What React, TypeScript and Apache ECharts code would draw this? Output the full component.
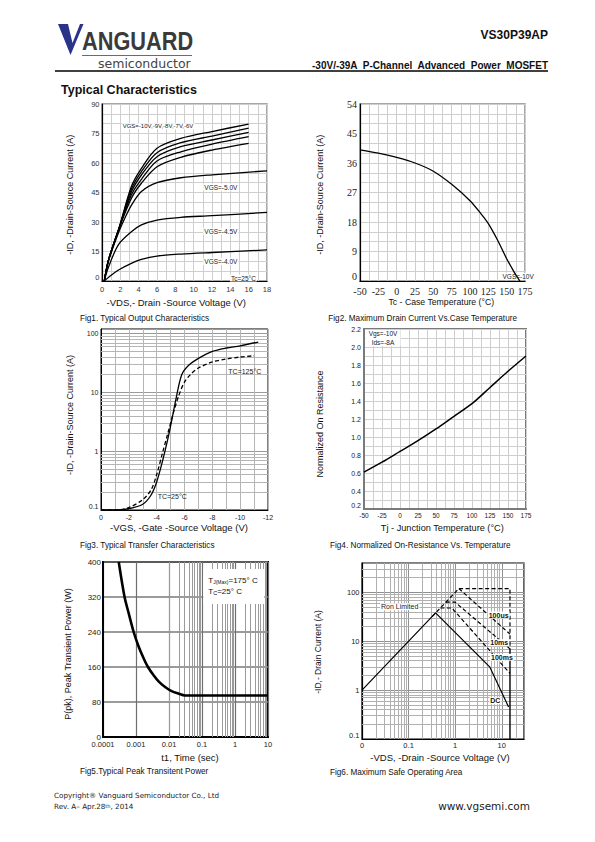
import React, { useEffect, useRef } from 'react';
import * as echarts from 'echarts';

const SANS = '"Liberation Sans", Arial, Helvetica, sans-serif';
const SERIF = '"Liberation Serif", "Times New Roman", serif';
const WIDE = '"DejaVu Sans", Verdana, sans-serif';

// ---------- Fig1: output characteristics ----------
const fig1VdsTop = [0.25, 0.7, 1.8, 3.2, 4.3, 6, 8.6, 12, 16];
const fig1IdVgs10 = [0, 10.5, 26, 48, 57.3, 67.5, 72.5, 76, 79.8];
const fig1IdVgs9 = [0, 10.5, 26, 46.6, 55.6, 65.2, 70.3, 73.7, 77.7];
const fig1IdVgs8 = [0, 10.5, 26, 45.2, 53.9, 63.2, 68.3, 71.7, 75.6];
const fig1IdVgs7 = [0, 10.5, 26, 43.7, 51.7, 61, 65.7, 69.6, 73.4];
const fig1IdVgs6 = [0, 10.5, 26, 42, 49.7, 58.1, 62.9, 66.6, 70];
const fig1VdsVgs5 = [0.25, 0.7, 1.8, 2.6, 3.2, 4.3, 6, 8.6, 12, 18];
const fig1IdVgs5 = [0, 10, 24.5, 33, 38.5, 45.5, 50, 52.5, 54, 56];
const fig1VdsLow = [0.25, 0.7, 1.8, 3.2, 4.3, 6, 8.6, 12, 18];
const fig1IdVgs45 = [0, 7, 18.5, 25, 28.5, 31, 32.4, 33.2, 34.9];
const fig1IdVgs4 = [0, 1.8, 5.6, 9, 11, 12.7, 13.7, 14.5, 15.8];
const fig1XLabels = [0, 2, 4, 6, 8, 10, 12, 14, 16, 18];
const fig1YLabels = [0, 15, 30, 45, 60, 75, 90];

// ---------- Fig2: max drain current vs case temperature ----------
const fig2Tc = [-50, -25, 0, 25, 50, 75, 100, 115, 125, 137.5, 150, 160, 168];
const fig2Id = [40, 39, 37.7, 36, 33.5, 29.5, 24.5, 20.5, 17.5, 12.5, 6.8, 2.8, 0];
const fig2XLabels = [-50, -25, 0, 25, 50, 75, 100, 125, 150, 175];
const fig2YLabels = [0, 9, 18, 27, 36, 45, 54];

// ---------- Fig3: transfer characteristics ----------
const fig3Vgs25 = [0, -1, -2, -3, -3.6, -4, -4.4, -4.8, -5.1, -5.4, -5.8, -6.3, -7, -8, -9, -10, -11.3];
const fig3Id25 = [0.1, 0.1, 0.105, 0.125, 0.18, 0.3, 0.65, 1.6, 3.5, 8, 20, 29, 38, 50, 57, 62, 72];
const fig3Vgs125 = [0, -1, -2, -3, -3.6, -4, -4.4, -4.8, -5.2, -5.6, -6, -6.5, -7, -8, -9, -10, -11];
const fig3Id125 = [0.1, 0.1, 0.11, 0.15, 0.22, 0.4, 0.9, 2, 4.5, 9, 15, 21, 26, 33, 37, 40, 42];
const fig3XLabels = [0, -2, -4, -6, -8, -10, -12];
const fig3YLabels = [0.1, 1, 10, 100];

// ---------- Fig4: normalized on-resistance ----------
const fig4Tj = [-50, -25, 0, 25, 50, 75, 100, 125, 150, 175];
const fig4Rn = [0.61, 0.72, 0.84, 0.96, 1.09, 1.23, 1.37, 1.55, 1.73, 1.9];
const fig4XLabels = [-50, -25, 0, 25, 50, 75, 100, 125, 150, 175];
const fig4YLabels = [0.2, 0.4, 0.6, 0.8, 1.0, 1.2, 1.4, 1.6, 1.8, 2.0, 2.2];
const fig4YTexts = ['0.2', '0.4', '0.6', '0.8', '1.0', '1.2', '1.4', '1.6', '1.8', '2.0', '2.2'];

// ---------- Fig5: peak transient power ----------
const fig5T = [0.0003, 0.00045, 0.0006, 0.00085, 0.0012, 0.0017, 0.0023, 0.0035, 0.005, 0.008, 0.012, 0.02, 0.03, 0.05, 0.1, 1, 10];
const fig5P = [400, 320, 283, 240, 207, 180, 160, 140, 126, 113, 105, 99, 95, 95, 95, 95, 95];
const fig5XLabels = [0.0001, 0.001, 0.01, 0.1, 1, 10];
const fig5YLabels = [0, 80, 160, 240, 320, 400];

// ---------- Fig6: safe operating area ----------
const fig6DcV = [0.01, 0.38, 5.5, 14];
const fig6DcI = [1, 38, 3, 0.45];
const fig6LimitV = [15, 15];
const fig6LimitI = [7, 0.1];
const fig6BoxV = [0.32, 1.2, 15, 15];
const fig6BoxI = [32, 120, 120, 7];
const fig6Us100V = [1.2, 15];
const fig6Us100I = [120, 14];
const fig6Ms10V = [0.63, 1.0, 15];
const fig6Ms10I = [63, 63, 7];
const fig6Ms100V = [0.48, 0.85, 15];
const fig6Ms100I = [48, 48, 2.2];
const fig6XLabels = [0.01, 0.1, 1, 10];
const fig6XTexts = ['0', '0.1', '1', '10'];
const fig6YLabels = [0.1, 1, 10, 100];

// ---------- helpers ----------
const zip = (xs: number[], ys: number[]) => xs.map((x, i) => [x, ys[i]]);

function pick(values: number[], texts?: string[]) {
  return (v: number) => {
    const i = values.findIndex((t) => Math.abs(t - v) <= Math.abs(t) * 1e-6 + 1e-9);
    return i < 0 ? '' : texts ? texts[i] : String(values[i]);
  };
}

function logMinor(lo: number, hi: number): number[] {
  const out: number[] = [];
  for (let e = Math.floor(Math.log10(lo)); e < Math.ceil(Math.log10(hi)); e++) {
    for (let k = 2; k <= 9; k++) {
      const v = parseFloat((k * Math.pow(10, e)).toPrecision(3));
      if (v > lo && v < hi) out.push(v);
    }
  }
  return out;
}

function curve(i: number, xs: number[], ys: number[], o: any = {}) {
  return {
    type: 'line',
    xAxisIndex: i,
    yAxisIndex: i,
    data: zip(xs, ys),
    symbol: 'none',
    showSymbol: false,
    silent: true,
    z: 3,
    smooth: o.smooth ?? 0,
    lineStyle: { color: '#000', width: o.width ?? 1.3, type: o.type ?? 'solid' },
    animation: false,
  };
}

function gridLines(i: number, axis: 'xAxis' | 'yAxis', vals: number[], color: string, width = 1) {
  return {
    type: 'line',
    xAxisIndex: i,
    yAxisIndex: i,
    data: [],
    silent: true,
    z: 1,
    markLine: {
      silent: true,
      z: 1,
      symbol: ['none', 'none'],
      label: { show: false },
      animation: false,
      emphasis: { disabled: true },
      lineStyle: { color, width, type: 'solid' },
      data: vals.map((v) => ({ [axis]: v })),
    },
  };
}

function txt(x: number, y: number, text: string, size: number, o: any = {}) {
  return {
    type: 'text',
    x,
    y,
    z: o.z ?? 20,
    silent: true,
    rotation: o.rot ?? 0,
    scaleX: o.scaleX ?? 1,
    style: {
      text,
      fontSize: size,
      fontFamily: o.font ?? SANS,
      fontWeight: o.bold ? 'bold' : 'normal',
      fill: o.fill ?? '#111',
      align: o.align ?? 'left',
      verticalAlign: 'middle',
      backgroundColor: o.bg,
      padding: o.bg ? [0, 1] : 0,
      rich: o.rich,
    },
  };
}

function line(x1: number, y1: number, x2: number, y2: number, stroke: string, lineWidth: number) {
  return { type: 'line', z: 20, silent: true, shape: { x1, y1, x2, y2 }, style: { stroke, lineWidth } };
}

function whiteBox(x: number, y: number, width: number, height: number) {
  return { type: 'rect', z: 19, silent: true, shape: { x, y, width, height }, style: { fill: '#fff' } };
}

const axLine = (w = 1.2, c = '#000') => ({ show: true, onZero: false, lineStyle: { color: c, width: w } });
const split = (c: string, w = 1) => ({ show: true, lineStyle: { color: c, width: w } });

function buildOption() {
  const labelBase = { fontFamily: SANS, color: '#222' };
  const grid = [
    { left: 102, top: 104, width: 165, height: 177, show: true, borderColor: '#8a8a8a', borderWidth: 1.5 },
    { left: 360, top: 104, width: 165, height: 177, show: true, borderColor: '#8a8a8a', borderWidth: 1.5 },
    { left: 101, top: 329, width: 167, height: 181, show: true, borderColor: '#000', borderWidth: 1 },
    { left: 364, top: 329, width: 162, height: 180, show: true, borderColor: '#7a7a7a', borderWidth: 2 },
    { left: 103, top: 562, width: 165, height: 175, show: true, borderColor: '#000', borderWidth: 2 },
    { left: 362, top: 563, width: 162, height: 176, show: true, borderColor: '#000', borderWidth: 1.2 },
  ].map((g) => ({ ...g, containLabel: false, outerBoundsMode: 'none' }));

  const xAxis = [
    {
      gridIndex: 0, type: 'value', min: 0, max: 18, interval: 1,
      axisLine: axLine(), axisTick: { show: false }, splitLine: split('#cfcfcf'),
      axisLabel: { ...labelBase, color: '#333', fontSize: 7.5, margin: 4, formatter: pick(fig1XLabels) },
    },
    {
      gridIndex: 1, type: 'value', min: -50, max: 175, interval: 12.5,
      axisLine: axLine(), axisTick: { show: false }, splitLine: split('#cfcfcf'),
      axisLabel: { ...labelBase, fontFamily: SERIF, fontSize: 10, margin: 5, formatter: pick(fig2XLabels) },
    },
    {
      gridIndex: 2, type: 'value', min: -12, max: 0, interval: 1, inverse: true,
      axisLine: axLine(1), axisTick: { show: false }, splitLine: split('#b5b5b5'),
      axisLabel: { ...labelBase, fontSize: 7, margin: 4, formatter: pick(fig3XLabels) },
    },
    {
      gridIndex: 3, type: 'value', min: -50, max: 175, interval: 12.5,
      axisLine: axLine(2, '#7a7a7a'), axisTick: { show: false }, splitLine: split('#cfcfcf'),
      axisLabel: { ...labelBase, fontSize: 6.5, margin: 2.5, formatter: pick(fig4XLabels) },
    },
    {
      gridIndex: 4, type: 'log', logBase: 10, min: 0.0001, max: 10,
      axisLine: axLine(2), axisTick: { show: false }, splitLine: split('#6f6f6f', 1.2),
      axisLabel: { ...labelBase, fontSize: 7.5, margin: 3.5, formatter: pick(fig5XLabels) },
    },
    {
      gridIndex: 5, type: 'log', logBase: 10, min: 0.01, max: 30,
      axisLine: axLine(1.2), axisTick: { show: false }, splitLine: split('#8f8f8f'),
      axisLabel: { ...labelBase, fontSize: 7.5, margin: 2.5, formatter: pick(fig6XLabels, fig6XTexts) },
    },
  ];

  const yAxis = [
    {
      gridIndex: 0, type: 'value', min: 0, max: 90, interval: 5,
      axisLine: axLine(), axisTick: { show: false }, splitLine: split('#cfcfcf'),
      axisLabel: { ...labelBase, color: '#333', fontSize: 7.5, margin: 2.5, verticalAlignMinLabel: 'bottom', formatter: pick(fig1YLabels) },
    },
    {
      gridIndex: 1, type: 'value', min: 0, max: 54, interval: 3,
      axisLine: axLine(), axisTick: { show: false }, splitLine: split('#cfcfcf'),
      axisLabel: { ...labelBase, fontFamily: SERIF, fontSize: 10, margin: 3, verticalAlignMinLabel: 'bottom', formatter: pick(fig2YLabels) },
    },
    {
      gridIndex: 2, type: 'log', logBase: 10, min: 0.1, max: 120,
      axisLine: axLine(1), axisTick: { show: false }, splitLine: split('#999'),
      axisLabel: { ...labelBase, fontSize: 7, margin: 2.5, verticalAlignMinLabel: 'bottom', formatter: pick(fig3YLabels) },
    },
    {
      gridIndex: 3, type: 'value', min: 0.2, max: 2.2, interval: 0.1,
      axisLine: axLine(2, '#7a7a7a'), axisTick: { show: false }, splitLine: split('#cfcfcf'),
      axisLabel: { ...labelBase, fontSize: 7, margin: 3, verticalAlignMinLabel: 'bottom', formatter: pick(fig4YLabels, fig4YTexts) },
    },
    {
      gridIndex: 4, type: 'value', min: 0, max: 400, interval: 80,
      axisLine: axLine(2), axisTick: { show: false }, splitLine: split('#7a7a7a', 1.6),
      axisLabel: { ...labelBase, fontSize: 8, margin: 2, formatter: pick(fig5YLabels) },
    },
    {
      gridIndex: 5, type: 'log', logBase: 10, min: 0.1, max: 400,
      axisLine: axLine(1.2), axisTick: { show: false }, splitLine: split('#8f8f8f'),
      axisLabel: { ...labelBase, fontSize: 7.5, margin: 2.5, verticalAlignMinLabel: 'bottom', formatter: pick(fig6YLabels) },
    },
  ];

  const dash = [4, 2.5];
  const series = [
    // fig1
    curve(0, fig1VdsTop, fig1IdVgs10, { smooth: 0.3 }),
    curve(0, fig1VdsTop, fig1IdVgs9, { smooth: 0.3 }),
    curve(0, fig1VdsTop, fig1IdVgs8, { smooth: 0.3 }),
    curve(0, fig1VdsTop, fig1IdVgs7, { smooth: 0.3 }),
    curve(0, fig1VdsTop, fig1IdVgs6, { smooth: 0.3 }),
    curve(0, fig1VdsVgs5, fig1IdVgs5, { smooth: 0.3 }),
    curve(0, fig1VdsLow, fig1IdVgs45, { smooth: 0.3 }),
    curve(0, fig1VdsLow, fig1IdVgs4, { smooth: 0.3 }),
    // fig2
    curve(1, fig2Tc, fig2Id, { smooth: 0.3 }),
    // fig3
    gridLines(2, 'yAxis', logMinor(0.1, 120), '#b5b5b5'),
    curve(2, fig3Vgs25, fig3Id25, { smooth: 0.3 }),
    curve(2, fig3Vgs125, fig3Id125, { smooth: 0.3, type: dash }),
    // fig4
    curve(3, fig4Tj, fig4Rn, { smooth: 0.3, width: 1.5 }),
    // fig5
    gridLines(4, 'xAxis', logMinor(0.0001, 10), '#9a9a9a'),
    curve(4, fig5T, fig5P, { smooth: 0.3, width: 2.6 }),
    // fig6
    gridLines(5, 'xAxis', logMinor(0.01, 30), '#b0b0b0'),
    gridLines(5, 'yAxis', logMinor(0.1, 400), '#b0b0b0'),
    curve(5, fig6DcV, fig6DcI, { width: 1.2 }),
    curve(5, fig6LimitV, fig6LimitI, { width: 1.4 }),
    curve(5, fig6BoxV, fig6BoxI, { width: 1.2, type: dash }),
    curve(5, fig6Us100V, fig6Us100I, { width: 1.2, type: dash }),
    curve(5, fig6Ms10V, fig6Ms10I, { width: 1.2, type: dash }),
    curve(5, fig6Ms100V, fig6Ms100I, { width: 1.2, type: dash }),
  ];

  const yTitle = (x: number, y: number, t: string, s = 9) => txt(x, y, t, s, { rot: Math.PI / 2, align: 'center', fill: '#111' });
  const xTitle = (x: number, y: number, t: string, s = 9.5) => txt(x, y, t, s, { align: 'center', fill: '#111' });
  const caption = (x: number, y: number, t: string) => txt(x, y, t, 8.2, { fill: '#111' });

  const elements: any[] = [
    // header
    { type: 'polygon', z: 20, silent: true, shape: { points: [[58, 24], [68, 24], [72.5, 43], [80, 24], [83.5, 24], [70.5, 55]] }, style: { fill: '#28348a' } },
    txt(82, 41, 'ANGUARD', 25, { bold: true, fill: '#3a3a3a', scaleX: 0.87 }),
    line(82, 55.5, 192, 55.5, '#5b67ad', 1),
    txt(98, 63.5, 'semiconductor', 12.5, { font: WIDE, fill: '#444' }),
    txt(548, 35, 'VS30P39AP', 12, { bold: true, align: 'right' }),
    txt(548, 65.5, '-30V/-39A  P-Channel  Advanced  Power  MOSFET', 10, { bold: true, align: 'right' }),
    line(55, 71, 548, 71, '#000', 1.5),
    txt(61, 90, 'Typical Characteristics', 12.5, { bold: true }),

    // fig1
    txt(121.7, 126.3, 'VGS=-10V,-9V,-8V,-7V,-6V', 6, { fill: '#222', bg: '#fff' }),
    txt(203.3, 187.3, 'VGS=-5.0V', 6.5, { fill: '#222', bg: '#fff' }),
    txt(203.3, 231.3, 'VGS=-4.5V', 6.5, { fill: '#222', bg: '#fff' }),
    txt(203.3, 261.3, 'VGS=-4.0V', 6.5, { fill: '#222', bg: '#fff' }),
    txt(230, 278, 'Tc=25°C', 6.5, { fill: '#222', bg: '#fff' }),
    yTitle(70, 194.7, '-ID, -Drain-Source Current (A)'),
    xTitle(176.3, 302, '-VDS,- Drain -Source Voltage (V)'),
    caption(80, 318, 'Fig1. Typical Output Characteristics'),

    // fig2
    txt(501.5, 276.3, 'VGS=-10V', 6.5, { fill: '#222', bg: '#fff', z: 2 }),
    yTitle(320, 194.7, '-ID, -Drain-Source Current (A)'),
    xTitle(441.3, 301.5, 'Tc - Case Temperature (°C)', 8.7),
    caption(328.3, 318, 'Fig2. Maximum Drain Current Vs.Case Temperature'),

    // fig3
    txt(228.3, 371.7, 'TC=125°C', 7, { fill: '#222' }),
    txt(157.7, 496.7, 'TC=25°C', 7, { fill: '#222' }),
    yTitle(70, 415, '-ID, -Drain-Source Current (A)'),
    xTitle(179, 527.7, '-VGS, -Gate -Source Voltage (V)'),
    caption(80, 545, 'Fig3. Typical Transfer Characteristics'),

    // fig4
    whiteBox(365.5, 330, 35, 16),
    txt(383, 333, 'Vgs=-10V', 6.5, { align: 'center', fill: '#222' }),
    txt(383, 342, 'Ids=-8A', 6.5, { align: 'center', fill: '#222' }),
    yTitle(320, 424, 'Normalized On Resistance'),
    xTitle(442.3, 528.3, 'Tj - Junction Temperature (°C)', 9.2),
    caption(330, 545, 'Fig4. Normalized On-Resistance Vs. Temperature'),

    // fig5
    whiteBox(203.3, 569, 61, 35),
    txt(208.3, 580, '{a|T}{s|J(Max)}{a|=175° C}', 8, {
      rich: { a: { fontSize: 8, fontFamily: SANS, fill: '#111' }, s: { fontSize: 5, fontFamily: SANS, fill: '#111', verticalAlign: 'bottom' } },
    }),
    txt(208.3, 591.7, '{a|T}{s|C}{a|=25° C}', 8, {
      rich: { a: { fontSize: 8, fontFamily: SANS, fill: '#111' }, s: { fontSize: 5.5, fontFamily: SANS, fill: '#111', verticalAlign: 'bottom' } },
    }),
    yTitle(68.3, 654, 'P(pk), Peak Transient Power (W)'),
    xTitle(190, 757.5, 't1, Time (sec)'),
    caption(80, 771, 'Fig5.Typical Peak Transitent Power'),

    // fig6
    txt(380, 606.7, 'Ron Limited', 7, { fill: '#222', bg: '#fff' }),
    txt(487.7, 615, '100us', 7, { bold: true, bg: '#fff' }),
    txt(489.3, 642.7, '10ms', 7, { bold: true, bg: '#fff' }),
    txt(490, 657.3, '100ms', 7, { bold: true, bg: '#fff' }),
    txt(489.3, 700.7, 'DC', 7, { bold: true, bg: '#fff' }),
    yTitle(318.3, 652, '-ID,- Drain Current (A)', 8.5),
    xTitle(440, 757.5, '-VDS, -Drain -Source Voltage (V)'),
    caption(330, 772.5, 'Fig6. Maximum Safe Operating Area'),

    // footer
    txt(54, 795.5, 'Copyright® Vanguard Semiconductor Co., Ltd', 7.2, { font: WIDE, fill: '#222' }),
    txt(54, 806.5, '{a|Rev. A– Apr.28}{s|th}{a|, 2014}', 7.2, {
      rich: { a: { fontSize: 7.2, fontFamily: WIDE, fill: '#222' }, s: { fontSize: 5, fontFamily: WIDE, fill: '#222', verticalAlign: 'top' } },
    }),
    txt(530, 806, 'www.vgsemi.com', 10.5, { font: WIDE, fill: '#222', align: 'right' }),
  ];

  return {
    animation: false,
    textStyle: { fontFamily: SANS },
    grid,
    xAxis,
    yAxis,
    series,
    graphic: { elements },
  };
}

export default function App() {
  const ref = useRef<HTMLDivElement>(null);
  useEffect(() => {
    if (!ref.current) return;
    const chart = echarts.init(ref.current, null, { renderer: 'svg' });
    chart.setOption(buildOption() as any);
    return () => chart.dispose();
  }, []);
  return (
    <div
      ref={ref}
      style={{ position: 'absolute', left: 0, top: 0, width: 595, height: 842, background: '#fff' }}
    />
  );
}
